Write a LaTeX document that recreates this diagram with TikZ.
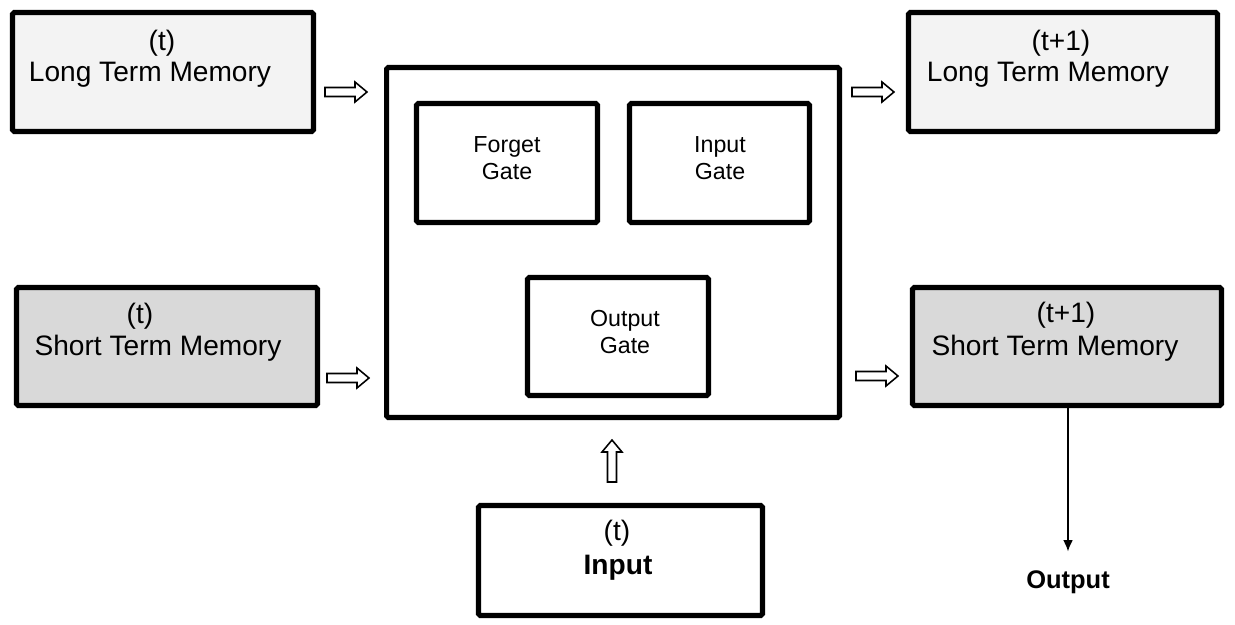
\documentclass[tikz,border=0pt]{standalone}
\usepackage{fontspec}
\setmainfont{Liberation Sans}
\usetikzlibrary{arrows.meta}
\definecolor{ltmgray}{HTML}{F3F3F3}
\definecolor{stmgray}{HTML}{D9D9D9}
\begin{document}
\begin{tikzpicture}[x=0.02cm,y=-0.02cm,
  box/.style={draw=black,line width=2.9pt,rounded corners=1pt,inner sep=0pt},
  big/.style={font=\fontsize{16}{18}\selectfont,inner sep=0pt},
  small/.style={font=\fontsize{13.2}{15.3}\selectfont,align=center,inner sep=0pt},
  hollowarrow/.pic={\draw [black,line width=0.9pt,fill=white]
    (-21,-4.5) -- (9,-4.5) -- (9,-10) -- (21,0) -- (9,10) -- (9,4.5) -- (-21,4.5) -- cycle;}]
\useasboundingbox (0,0) rectangle (1235,625);
% memory at time t
\node [box,fill=ltmgray,minimum width=6.02cm,minimum height=2.38cm] (ltm) at (163,72) {};
\node [big] at (162,43) {(t)};
\node [big] at (150,75) {Long Term Memory};
\node [box,fill=stmgray,minimum width=6.02cm,minimum height=2.36cm] (stm) at (167,346.5) {};
\node [big] at (140,316) {(t)};
\node [big] at (158,348) {Short Term Memory};
% the cell and its gates
\node [box,fill=white,minimum width=9.06cm,minimum height=7cm] (cell) at (613,242.5) {};
\node [box,minimum width=3.62cm,minimum height=2.38cm] (forget) at (507,163) {};
\node [small] at (507,158) {Forget\\Gate};
\node [box,minimum width=3.6cm,minimum height=2.38cm] (ingate) at (719.5,163) {};
\node [small] at (720,158) {Input\\Gate};
\node [box,minimum width=3.62cm,minimum height=2.36cm] (outgate) at (618,336.5) {};
\node [small] at (625,332) {Output\\Gate};
% memory at time t+1
\node [box,fill=ltmgray,minimum width=6.18cm,minimum height=2.38cm] (ltmnext) at (1063,72) {};
\node [big] at (1061,43) {(t+1)};
\node [big] at (1048,75) {Long Term Memory};
\node [box,fill=stmgray,minimum width=6.18cm,minimum height=2.36cm] (stmnext) at (1067,346.5) {};
\node [big] at (1066,315) {(t+1)};
\node [big] at (1055,348) {Short Term Memory};
% input
\node [box,minimum width=5.68cm,minimum height=2.2cm] (input) at (620.5,560.5) {};
\node [big] at (617,533) {(t)};
\node [big,font=\fontsize{16}{18}\selectfont\bfseries] at (618,568) {Input};
% block arrows
\pic at (346,92) {hollowarrow};
\pic at (348,378) {hollowarrow};
\pic at (873,92) {hollowarrow};
\pic at (877,376) {hollowarrow};
\pic [rotate=90] at (612,461) {hollowarrow};
% output
\node [font=\fontsize{14.5}{17}\selectfont\bfseries,inner sep=10.5pt] (out) at (1068,582) {Output};
\draw [black,line width=1pt,-{Latex[length=6.5pt,width=5.5pt]}] (stmnext.south -| out) -- (out.north);
\end{tikzpicture}
\end{document}
